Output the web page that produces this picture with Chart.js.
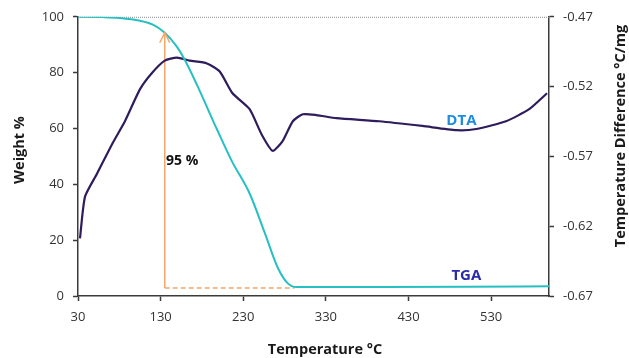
<!DOCTYPE html>
<html><head><meta charset="utf-8">
<script src="https://cdn.jsdelivr.net/npm/chart.js@4.4.1/dist/chart.umd.min.js"></script>
<style>html,body{margin:0;padding:0;background:#fff}#wrap{width:629px;height:358px;position:relative}</style>
</head><body><div id="wrap"><canvas id="c"></canvas></div>
<script>
// ---- data ----
const tgaTemp   = [30, 60, 80.7, 105, 120.6, 135, 149.6, 159, 173.7, 198, 216, 237.7, 255.8, 271.5, 283.6, 294.5, 400, 500, 600];
const tgaWeight = [100, 99.9, 99.6, 98.6, 97.2, 94.3, 89.3, 84.7, 75.8, 59.8, 48.4, 36.7, 22.8, 10.3, 4.6, 3.2, 3.2, 3.3, 3.5];
const dtaTemp  = [32.4, 38.5, 53, 72, 86.8, 104.9, 119, 135, 149.6, 165, 186, 201.5, 217, 237.7, 252, 265.5, 277.6, 290, 302, 318.6, 342.8, 394.7, 446.7, 487.7, 512, 548, 576, 597.6];
const dtaValue = [-0.6288, -0.5988, -0.5824, -0.5604, -0.5448, -0.522, -0.5106, -0.5014, -0.4992, -0.5014, -0.5034, -0.5092, -0.5248, -0.5362, -0.554, -0.566, -0.559, -0.5448, -0.5398, -0.5404, -0.5426, -0.5448, -0.5482, -0.5512, -0.5504, -0.5448, -0.5362, -0.5248];
const xTicks = [30, 130, 230, 330, 430, 530];
const yLeftTicks = [0, 20, 40, 60, 80, 100];
const yRightTicks = [-0.67, -0.62, -0.57, -0.52, -0.47];
const arrowTemp = 135, arrowFrom = 2.9, arrowTo = 94.3, dashEndTemp = 292;
const annotations = [
  {text: 'DTA', x: 494, y: 62.6, color: '#1f8ee0'},
  {text: 'TGA', x: 500, y: 7.2, color: '#2a2aae'},
  {text: '95 %', x: 156, y: 48.4, color: '#111111'}
];
const xTitle = 'Temperature °C', yTitle = 'Weight %', y1Title = 'Temperature Difference °C/mg';

const FONT = "'Open Sans', sans-serif";
const axisColor = '#3a3a3a';
const tickFont = {family: FONT, size: 13};

const extras = {
  id: 'extras',
  beforeDatasetsDraw(chart) {
    const {ctx, chartArea: a} = chart;
    ctx.save();
    ctx.strokeStyle = '#8a8a8a';
    ctx.lineWidth = 1;
    ctx.setLineDash([1, 1]);
    ctx.beginPath();
    ctx.moveTo(a.left, a.top + 0.5);
    ctx.lineTo(a.right, a.top + 0.5);
    ctx.stroke();
    ctx.restore();
  },
  afterDatasetsDraw(chart) {
    const {ctx} = chart;
    const xs = chart.scales.x, ys = chart.scales.y;
    ctx.save();
    const tx = xs.getPixelForValue(arrowTemp), ty = ys.getPixelForValue(arrowTo);
    ctx.strokeStyle = '#f5a66b';
    ctx.lineWidth = 1.5;
    ctx.beginPath();
    ctx.moveTo(tx - 5, ty + 10); ctx.lineTo(tx, ty); ctx.lineTo(tx + 5, ty + 10);
    ctx.stroke();
    ctx.textAlign = 'center';
    ctx.textBaseline = 'middle';
    annotations.forEach(l => {
      ctx.font = 'bold ' + (l.text === '95 %' ? 14 : 15) + 'px ' + FONT;
      ctx.fillStyle = l.color;
      ctx.fillText(l.text, xs.getPixelForValue(l.x), ys.getPixelForValue(l.y));
    });
    ctx.fillStyle = '#1a1a1a';
    ctx.font = 'bold 14.5px ' + FONT;
    ctx.fillText(xTitle, 325, 350);
    ctx.save(); ctx.translate(20, 150); ctx.rotate(-Math.PI / 2); ctx.fillText(yTitle, 0, 0); ctx.restore();
    ctx.save(); ctx.translate(621, 136); ctx.rotate(-Math.PI / 2); ctx.fillText(y1Title, 0, 0); ctx.restore();
    ctx.restore();
  }
};

const setTicks = arr => s => { s.ticks = arr.map(v => ({value: v})); };

new Chart(document.getElementById('c'), {
  type: 'line',
  data: {
    datasets: [
      {label: 'TGA', data: tgaTemp.map((t, i) => ({x: t, y: tgaWeight[i]})), yAxisID: 'y',
       borderColor: '#26c0c2', borderWidth: 2, pointRadius: 0, cubicInterpolationMode: 'monotone'},
      {label: 'DTA', data: dtaTemp.map((t, i) => ({x: t, y: dtaValue[i]})), yAxisID: 'y1',
       borderColor: '#2e1c5c', borderWidth: 2.2, pointRadius: 0, tension: 0.2},
      {label: 'arrow', data: [{x: arrowTemp, y: arrowFrom}, {x: arrowTemp, y: arrowTo}], yAxisID: 'y',
       borderColor: '#f5a66b', borderWidth: 1.5, pointRadius: 0},
      {label: 'dash', data: [{x: arrowTemp, y: arrowFrom}, {x: dashEndTemp, y: arrowFrom}], yAxisID: 'y',
       borderColor: '#f5a66b', borderWidth: 1.5, pointRadius: 0, borderDash: [5, 3]}
    ]
  },
  options: {
    responsive: true, maintainAspectRatio: false, animation: false,
    layout: {padding: {top: 15, left: 0, right: 0, bottom: 0}},
    plugins: {legend: {display: false}, tooltip: {enabled: false}},
    scales: {
      x: {type: 'linear', min: 30, max: 600,
          afterBuildTicks: setTicks(xTicks),
          afterFit: s => { s.height = 62; },
          ticks: {font: tickFont, color: '#333', padding: 8, maxRotation: 0},
          grid: {drawOnChartArea: false, drawTicks: true, tickLength: 5, tickColor: axisColor, tickWidth: 1.5},
          border: {color: axisColor, width: 1.5}},
      y: {type: 'linear', position: 'left', min: 0, max: 100,
          afterBuildTicks: setTicks(yLeftTicks),
          afterFit: s => { s.width = 78; },
          ticks: {font: tickFont, color: '#333', padding: 9},
          grid: {drawOnChartArea: false, drawTicks: true, tickLength: 5, tickColor: axisColor, tickWidth: 1.5},
          border: {color: axisColor, width: 1.5}},
      y1: {type: 'linear', position: 'right', min: -0.67, max: -0.47,
          afterBuildTicks: setTicks(yRightTicks),
          afterFit: s => { s.width = 80; },
          ticks: {font: tickFont, color: '#333', padding: 9, callback: v => v.toFixed(2)},
          grid: {drawOnChartArea: false, drawTicks: true, tickLength: 5, tickColor: axisColor, tickWidth: 1.5},
          border: {color: axisColor, width: 1.5}}
    }
  },
  plugins: [extras]
});
</script></body></html>
